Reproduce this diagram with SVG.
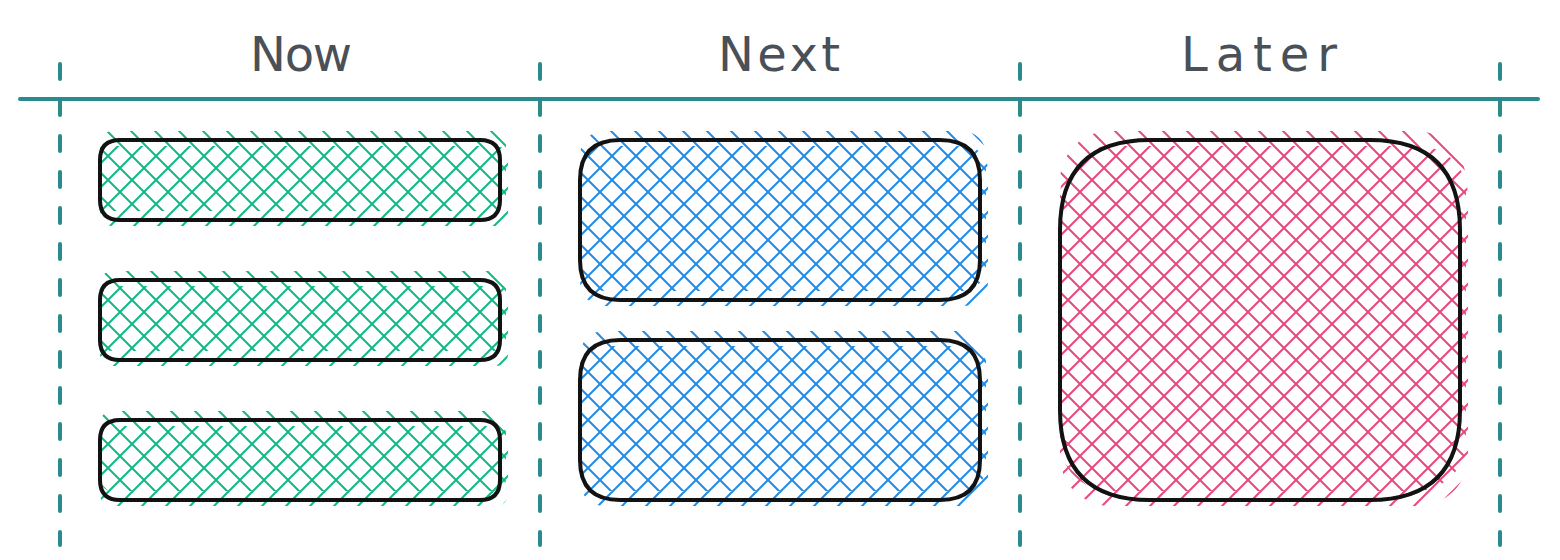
<svg xmlns="http://www.w3.org/2000/svg" width="1560" height="560" viewBox="0 0 1560 560">
  <style>
    .lane { stroke: #2b8a8e; stroke-width: 4; fill: none; stroke-linecap: round; }
    .dash { stroke-dasharray: 15 21; }
    .box { fill: none; stroke: #121212; stroke-width: 4; stroke-linejoin: round; }
    .label { font-family: "DejaVu Sans", "Liberation Sans", sans-serif; font-size: 48px; fill: #495057; text-anchor: middle; }
    .hg { stroke: #12b886; stroke-width: 2; }
    .hb { stroke: #228be6; stroke-width: 2; }
    .hr { stroke: #e64980; stroke-width: 2; }
  </style>
  <defs>
    <pattern id="gB" width="24" height="24" patternUnits="userSpaceOnUse"><path class="hg" d="M-2,-2 L26,26 M22,-2 L26,2 M-2,22 L2,26"/></pattern>
    <pattern id="gF" width="24" height="24" patternUnits="userSpaceOnUse"><path class="hg" d="M-2,26 L26,-2 M-2,2 L2,-2 M22,26 L26,22"/></pattern>
    <pattern id="bB" width="24" height="24" patternUnits="userSpaceOnUse"><path class="hb" d="M-2,-2 L26,26 M22,-2 L26,2 M-2,22 L2,26"/></pattern>
    <pattern id="bF" width="24" height="24" patternUnits="userSpaceOnUse"><path class="hb" d="M-2,26 L26,-2 M-2,2 L2,-2 M22,26 L26,22"/></pattern>
    <pattern id="rB" width="24" height="24" patternUnits="userSpaceOnUse"><path class="hr" d="M-2,-2 L26,26 M22,-2 L26,2 M-2,22 L2,26"/></pattern>
    <pattern id="rF" width="24" height="24" patternUnits="userSpaceOnUse"><path class="hr" d="M-2,26 L26,-2 M-2,2 L2,-2 M22,26 L26,22"/></pattern>
  </defs>
  <rect width="1560" height="560" fill="#ffffff"/>

  <g id="connectors">
    <line class="lane" x1="20" y1="99" x2="1538" y2="99"/>
    <line class="lane dash" x1="60" y1="64" x2="60" y2="545"/>
    <line class="lane dash" x1="540" y1="64" x2="540" y2="545"/>
    <line class="lane dash" x1="1020" y1="64" x2="1020" y2="545"/>
    <line class="lane dash" x1="1500" y1="64" x2="1500" y2="545"/>
  </g>

  <g id="label-now"><text class="label" x="301" y="71" textLength="102" lengthAdjust="spacing">Now</text></g>
  <g id="label-next"><text class="label" x="779" y="71" textLength="122" lengthAdjust="spacing">Next</text></g>
  <g id="label-later"><text class="label" x="1259" y="71" textLength="156" lengthAdjust="spacing">Later</text></g>

  <g id="now-1">
    <rect x="100" y="131" width="406" height="80" rx="12" fill="url(#gB)"/>
    <rect x="100" y="146" width="408" height="80" rx="12" fill="url(#gF)"/>
    <path class="box" d="M120,140 L480,140 Q500,140 500,160 L500,200 Q500,220 480,220 L120,220 Q100,220 100,200 L100,160 Q100,140 120,140 Z"/>
  </g>
  <g id="now-2">
    <rect x="100" y="271" width="406" height="80" rx="12" fill="url(#gB)"/>
    <rect x="100" y="286" width="408" height="80" rx="12" fill="url(#gF)"/>
    <path class="box" d="M120,280 L480,280 Q500,280 500,300 L500,340 Q500,360 480,360 L120,360 Q100,360 100,340 L100,300 Q100,280 120,280 Z"/>
  </g>
  <g id="now-3">
    <rect x="100" y="411" width="406" height="80" rx="12" fill="url(#gB)"/>
    <rect x="100" y="426" width="408" height="80" rx="12" fill="url(#gF)"/>
    <path class="box" d="M120,420 L480,420 Q500,420 500,440 L500,480 Q500,500 480,500 L120,500 Q100,500 100,480 L100,440 Q100,420 120,420 Z"/>
  </g>

  <g id="next-1">
    <rect x="580" y="131" width="406" height="160" rx="24" fill="url(#bB)"/>
    <rect x="580" y="146" width="408" height="160" rx="24" fill="url(#bF)"/>
    <path class="box" d="M620,140 L940,140 Q980,140 980,180 L980,260 Q980,300 940,300 L620,300 Q580,300 580,260 L580,180 Q580,140 620,140 Z"/>
  </g>
  <g id="next-2">
    <rect x="580" y="331" width="406" height="160" rx="24" fill="url(#bB)"/>
    <rect x="580" y="346" width="408" height="160" rx="24" fill="url(#bF)"/>
    <path class="box" d="M620,340 L940,340 Q980,340 980,380 L980,460 Q980,500 940,500 L620,500 Q580,500 580,460 L580,380 Q580,340 620,340 Z"/>
  </g>

  <g id="later-1">
    <rect x="1060" y="131" width="406" height="360" rx="50" fill="url(#rB)"/>
    <rect x="1060" y="146" width="408" height="360" rx="50" fill="url(#rF)"/>
    <path class="box" d="M1150,140 L1370,140 Q1460,140 1460,230 L1460,410 Q1460,500 1370,500 L1150,500 Q1060,500 1060,410 L1060,230 Q1060,140 1150,140 Z"/>
  </g>
</svg>
